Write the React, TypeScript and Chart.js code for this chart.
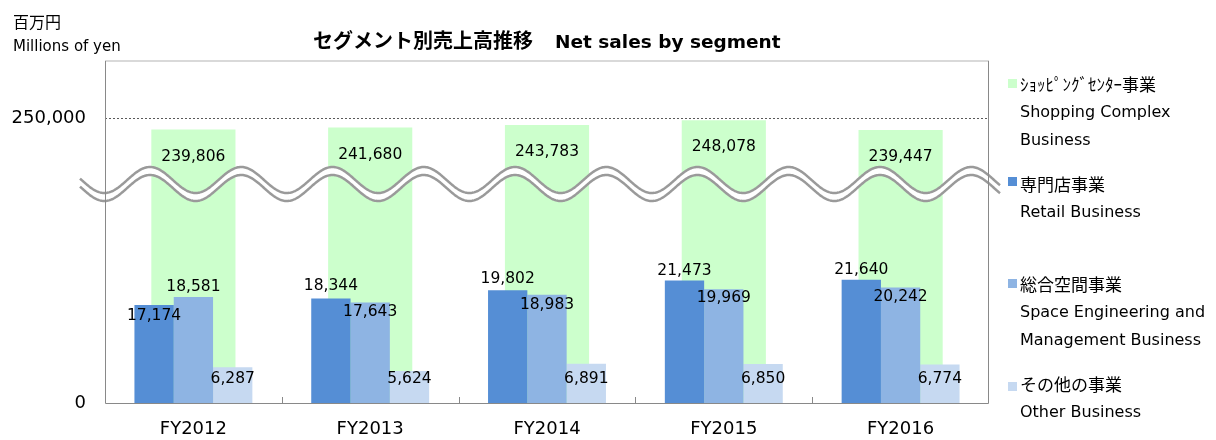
import React, { useEffect, useRef } from 'react';
import { Chart, registerables } from 'chart.js';

Chart.register(...registerables);

// ---- data ----
const categories = ['FY2012', 'FY2013', 'FY2014', 'FY2015', 'FY2016'];
const shoppingComplex = [239806, 241680, 243783, 248078, 239447];
const retail = [17174, 18344, 19802, 21473, 21640];
const spaceEngineering = [18581, 17643, 18983, 19969, 20242];
const otherBusiness = [6287, 5624, 6891, 6850, 6774];
const yTickValues = [0, 250000];
const seriesJa = ['ｼｮｯﾋﾟﾝｸﾞｾﾝﾀｰ事業', '専門店事業', '総合空間事業', 'その他の事業'];
const seriesEn = [
  ['Shopping Complex', 'Business'],
  ['Retail Business'],
  ['Space Engineering and', 'Management Business'],
  ['Other Business'],
];

// ---- styles ----
const COLORS = ['#CCFFCC', '#558ED5', '#8EB4E3', '#C6D9F1'];
const LATIN = "'DejaVu Sans', 'Noto Sans CJK JP', sans-serif";
const CJK = "'Noto Sans CJK JP', 'DejaVu Sans', sans-serif";
const LABEL_RULES = [
  { anchor: 'top', dy: [27, 27, 27, 27, 27] },
  { anchor: 'top', dy: [11, -12, -11, -10, -10] },
  { anchor: 'top', dy: [-10, 10, 10, 9, 9] },
  { anchor: 'base', dy: [-24, -24, -24, -24, -24] },
];

const decorPlugin = {
  id: 'decor',
  beforeDatasetsDraw(chart: any) {
    const { ctx, chartArea: a, scales } = chart;
    const y = Math.round(scales.y.getPixelForValue(250000)) + 0.5;
    ctx.save();
    ctx.strokeStyle = '#595959';
    ctx.lineWidth = 1;
    ctx.setLineDash([2, 2]);
    ctx.beginPath();
    ctx.moveTo(a.left, y);
    ctx.lineTo(a.right, y);
    ctx.stroke();
    ctx.restore();
  },
  afterDatasetsDraw(chart: any) {
    const { ctx, chartArea: a, scales } = chart;
    // broken-axis wave
    const c = a.top + 119;
    const amp = 13;
    const period = 91.25;
    const x0 = 150;
    const gap = 8;
    const fx = (x: number) => c - amp * Math.cos((2 * Math.PI * (x - x0)) / period);
    const xs: number[] = [];
    for (let x = 80; x <= 1000; x += 1) xs.push(x);
    ctx.save();
    ctx.fillStyle = '#ffffff';
    ctx.beginPath();
    xs.forEach((x, i) => (i === 0 ? ctx.moveTo(x, fx(x)) : ctx.lineTo(x, fx(x))));
    for (let i = xs.length - 1; i >= 0; i--) ctx.lineTo(xs[i], fx(xs[i]) + gap);
    ctx.closePath();
    ctx.fill();
    ctx.strokeStyle = '#9a9a9a';
    ctx.lineWidth = 2.5;
    for (const off of [0, gap]) {
      ctx.beginPath();
      xs.forEach((x, i) => (i === 0 ? ctx.moveTo(x, fx(x) + off) : ctx.lineTo(x, fx(x) + off)));
      ctx.stroke();
    }
    ctx.restore();

    // plot frame
    ctx.save();
    ctx.lineWidth = 2;
    ctx.strokeStyle = '#D9D9D9';
    ctx.beginPath();
    ctx.moveTo(a.left, a.top);
    ctx.lineTo(a.right, a.top);
    ctx.stroke();
    ctx.lineWidth = 1;
    ctx.strokeStyle = '#898989';
    ctx.beginPath();
    ctx.moveTo(a.left + 0.5, a.top);
    ctx.lineTo(a.left + 0.5, a.bottom + 0.5);
    ctx.lineTo(a.right - 0.5, a.bottom + 0.5);
    ctx.lineTo(a.right - 0.5, a.top);
    ctx.stroke();
    // inner tick marks at category boundaries
    const xs2 = scales.x;
    for (let i = 0; i < categories.length - 1; i++) {
      const bx = Math.round((xs2.getPixelForValue(i) + xs2.getPixelForValue(i + 1)) / 2) + 0.5;
      ctx.beginPath();
      ctx.moveTo(bx, a.bottom - 6);
      ctx.lineTo(bx, a.bottom);
      ctx.stroke();
    }
    ctx.restore();

    // data labels
    ctx.save();
    ctx.font = `15.5px ${LATIN}`;
    ctx.fillStyle = '#000';
    ctx.textAlign = 'center';
    ctx.textBaseline = 'middle';
    chart.data.datasets.forEach((ds: any, di: number) => {
      const meta = chart.getDatasetMeta(di);
      const rule = LABEL_RULES[di];
      meta.data.forEach((el: any, i: number) => {
        const v = ds.data[i];
        const ty = rule.anchor === 'top' ? el.y + rule.dy[i] : el.base + rule.dy[i];
        ctx.fillText(v.toLocaleString('en-US'), el.x, ty);
      });
    });
    ctx.restore();
  },
};

export default function App() {
  const ref = useRef<HTMLCanvasElement | null>(null);

  useEffect(() => {
    if (!ref.current) return;
    const chart = new Chart(ref.current, {
      type: 'bar',
      data: {
        labels: categories,
        datasets: [
          {
            label: seriesJa[0],
            data: shoppingComplex,
            backgroundColor: COLORS[0],
            yAxisID: 'y',
            grouped: false,
            order: 1,
            barPercentage: 1,
            categoryPercentage: 0.476,
          } as any,
          {
            label: seriesJa[1],
            data: retail,
            backgroundColor: COLORS[1],
            yAxisID: 'y2',
            order: 0,
            barPercentage: 1,
            categoryPercentage: 0.667,
          },
          {
            label: seriesJa[2],
            data: spaceEngineering,
            backgroundColor: COLORS[2],
            yAxisID: 'y2',
            order: 0,
            barPercentage: 1,
            categoryPercentage: 0.667,
          },
          {
            label: seriesJa[3],
            data: otherBusiness,
            backgroundColor: COLORS[3],
            yAxisID: 'y2',
            order: 0,
            barPercentage: 1,
            categoryPercentage: 0.667,
          },
        ],
      },
      options: {
        responsive: false,
        animation: false,
        devicePixelRatio: 1,
        layout: { padding: { top: 61, right: 227, left: 0, bottom: 0 } },
        plugins: {
          legend: { display: false },
          title: { display: false },
          tooltip: { enabled: false },
        },
        scales: {
          x: {
            grid: { display: false, drawTicks: false },
            border: { display: false },
            ticks: { color: '#000', font: { size: 18, family: LATIN }, padding: 16 },
            afterFit: (s: any) => {
              s.height = 37;
            },
          },
          y: {
            position: 'left',
            min: 0,
            max: 300000,
            grid: { display: false, drawTicks: false },
            border: { display: false },
            afterBuildTicks: (s: any) => {
              s.ticks = yTickValues.map((v) => ({ value: v }));
            },
            ticks: {
              color: '#000',
              font: { size: 18, family: LATIN },
              padding: 19,
              callback: (v: any) => Number(v).toLocaleString('en-US'),
            },
            afterFit: (s: any) => {
              s.width = 105;
            },
          },
          y2: {
            position: 'right',
            display: false,
            min: 0,
            max: 60000,
          },
        },
      } as any,
      plugins: [decorPlugin],
    });
    return () => chart.destroy();
  }, []);

  const legendTops = [70, 170, 270, 370];
  const squareTops = [79, 177, 279, 382];

  return (
    <div
      style={{
        position: 'fixed',
        left: 0,
        top: 0,
        width: 1216,
        height: 440,
        background: '#fff',
        overflow: 'hidden',
        color: '#000',
      }}
    >
      <canvas ref={ref} width={1216} height={440} style={{ position: 'absolute', left: 0, top: 0, width: 1216, height: 440 }} />
      <div style={{ position: 'absolute', left: 13, top: 10, fontFamily: CJK, fontSize: 16, lineHeight: '22px', whiteSpace: 'pre' }}>百万円</div>
      <div style={{ position: 'absolute', left: 13, top: 35, fontFamily: LATIN, fontSize: 15, lineHeight: '22px', whiteSpace: 'pre' }}>Millions of yen</div>
      <div style={{ position: 'absolute', left: 313, top: 26, lineHeight: '28px', whiteSpace: 'pre', fontWeight: 'bold' }}>
        <span style={{ fontFamily: CJK, fontSize: 20 }}>セグメント別売上高推移</span>
        <span style={{ fontFamily: LATIN, fontSize: 18.5, marginLeft: 22 }}>Net sales by segment</span>
      </div>
      {seriesJa.map((ja, i) => (
        <React.Fragment key={ja}>
          <div style={{ position: 'absolute', left: 1008, top: squareTops[i], width: 9, height: 9, background: COLORS[i] }} />
          <div style={{ position: 'absolute', left: 1020, top: legendTops[i], whiteSpace: 'pre' }}>
            <div style={{ fontFamily: CJK, fontSize: 17, lineHeight: '28px' }}>{ja}</div>
            {seriesEn[i].map((t) => (
              <div key={t} style={{ fontFamily: LATIN, fontSize: 16, lineHeight: '28px' }}>
                {t}
              </div>
            ))}
          </div>
        </React.Fragment>
      ))}
    </div>
  );
}
